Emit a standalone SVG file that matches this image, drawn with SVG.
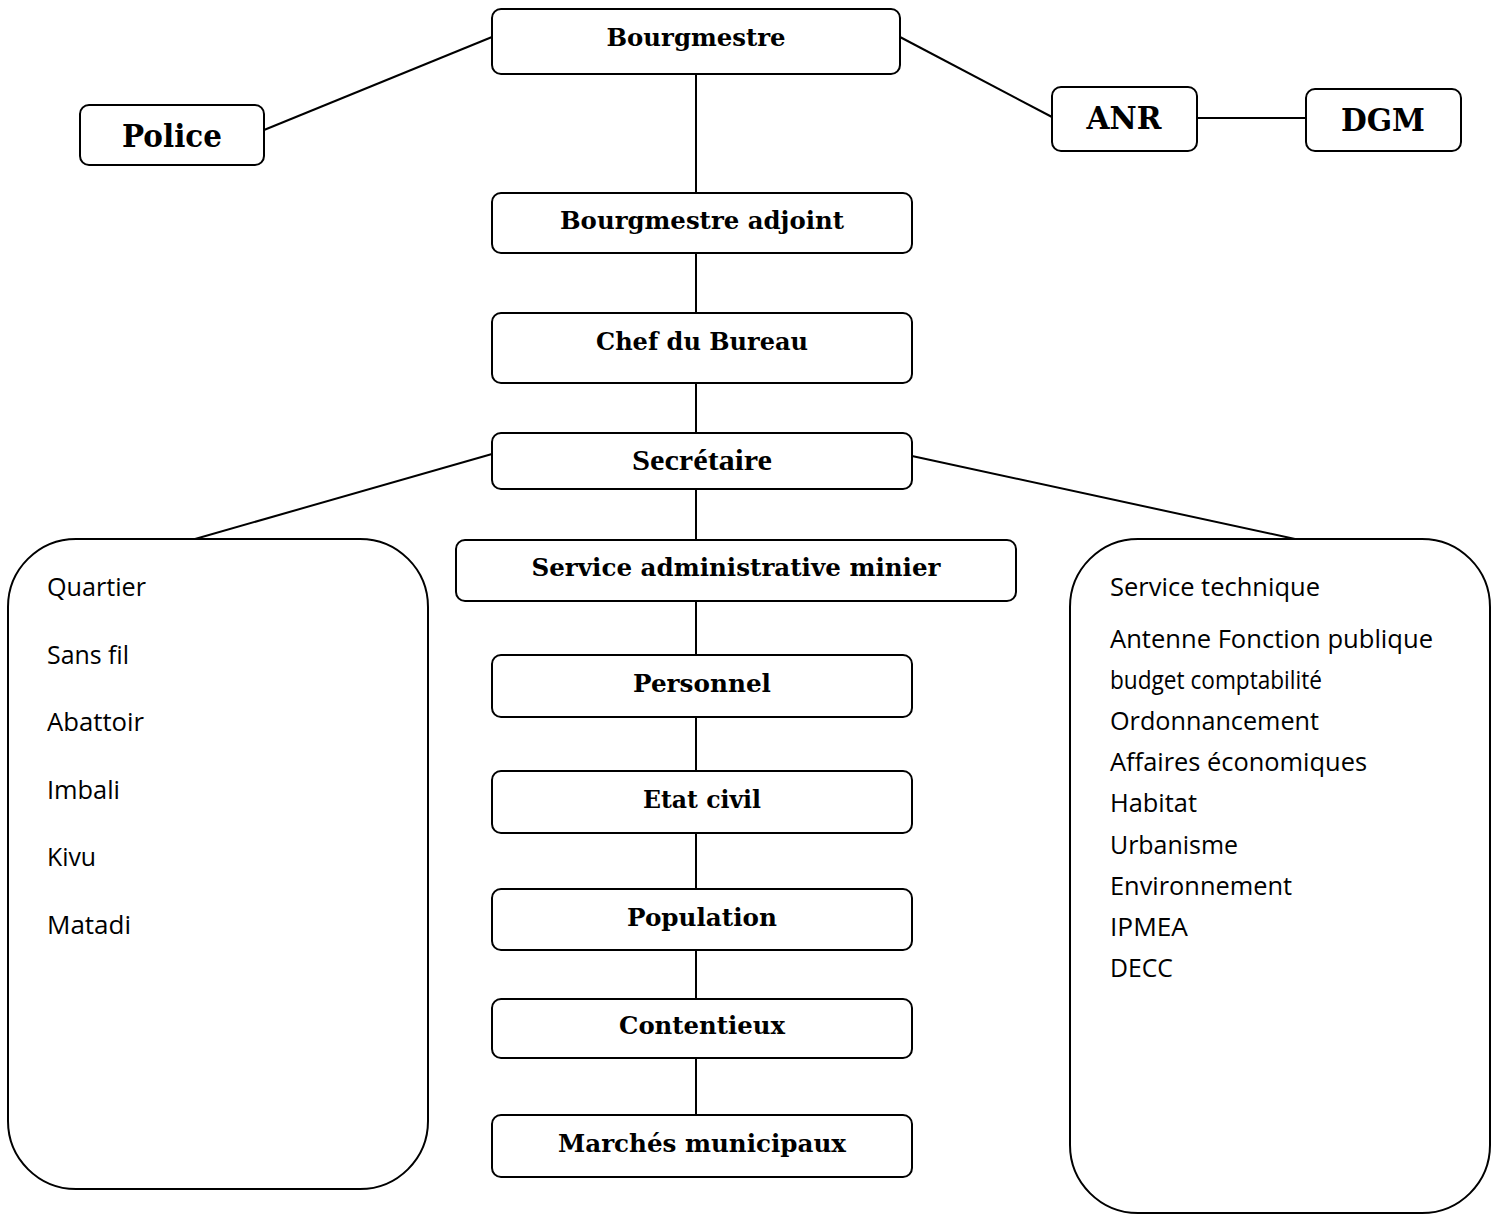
<svg xmlns="http://www.w3.org/2000/svg" width="1495" height="1214" viewBox="0 0 1495 1214">
<style>
.box{fill:#fff;stroke:#000;stroke-width:2}
.big{fill:#fff;stroke:#000;stroke-width:2}
.lbl{font-family:"DejaVu Serif","Liberation Serif",serif;font-weight:bold;font-size:25px;fill:#000;text-anchor:middle}
.lbl2{font-family:"DejaVu Serif","Liberation Serif",serif;font-weight:bold;font-size:31px;fill:#000;text-anchor:middle}
.cond{font-family:"Liberation Serif",serif;font-weight:bold;font-size:29px;fill:#000;text-anchor:middle}
.item{font-family:"Open Sans","Noto Sans",sans-serif;font-size:26px;fill:#000}
.con line{stroke:#000;stroke-width:2}
</style>
<rect width="1495" height="1214" fill="#fff"/>
<g class="con" id="connectors">
<line x1="492" y1="37" x2="264" y2="130"/>
<line x1="900" y1="37" x2="1052" y2="117"/>
<line x1="1197" y1="118" x2="1306" y2="118"/>
<line x1="696" y1="74" x2="696" y2="193"/>
<line x1="696" y1="253" x2="696" y2="313"/>
<line x1="696" y1="383" x2="696" y2="433"/>
<line x1="696" y1="489" x2="696" y2="540"/>
<line x1="696" y1="601" x2="696" y2="655"/>
<line x1="696" y1="717" x2="696" y2="771"/>
<line x1="696" y1="833" x2="696" y2="889"/>
<line x1="696" y1="950" x2="696" y2="999"/>
<line x1="696" y1="1058" x2="696" y2="1115"/>
<line x1="492" y1="454" x2="195" y2="539"/>
<line x1="912" y1="456" x2="1295" y2="539"/>
</g>
<g id="bourgmestre"><rect class="box" x="492" y="9" width="408" height="65" rx="9"/><text class="lbl" x="696" y="46" textLength="179" lengthAdjust="spacingAndGlyphs">Bourgmestre</text></g>
<g id="police"><rect class="box" x="80" y="105" width="184" height="60" rx="9"/><text class="lbl2" x="172" y="147" textLength="100" lengthAdjust="spacingAndGlyphs">Police</text></g>
<g id="anr"><rect class="box" x="1052" y="87" width="145" height="64" rx="9"/><text class="lbl2" x="1124" y="129" textLength="75" lengthAdjust="spacingAndGlyphs">ANR</text></g>
<g id="dgm"><rect class="box" x="1306" y="89" width="155" height="62" rx="9"/><text class="lbl2" x="1383" y="131" textLength="84" lengthAdjust="spacingAndGlyphs">DGM</text></g>
<g id="adjoint"><rect class="box" x="492" y="193" width="420" height="60" rx="9"/><text class="lbl" x="702" y="229" textLength="284" lengthAdjust="spacingAndGlyphs">Bourgmestre adjoint</text></g>
<g id="chef"><rect class="box" x="492" y="313" width="420" height="70" rx="9"/><text class="lbl" x="702" y="350" textLength="212" lengthAdjust="spacingAndGlyphs">Chef du Bureau</text></g>
<g id="secretaire"><rect class="box" x="492" y="433" width="420" height="56" rx="9"/><text class="cond" x="702" y="470" textLength="140" lengthAdjust="spacingAndGlyphs">Secrétaire</text></g>
<g id="service-minier"><rect class="box" x="456" y="540" width="560" height="61" rx="9"/><text class="lbl" x="736" y="576" textLength="409" lengthAdjust="spacingAndGlyphs">Service administrative minier</text></g>
<g id="personnel"><rect class="box" x="492" y="655" width="420" height="62" rx="9"/><text class="lbl" x="702" y="692" textLength="138" lengthAdjust="spacingAndGlyphs">Personnel</text></g>
<g id="etat-civil"><rect class="box" x="492" y="771" width="420" height="62" rx="9"/><text class="lbl" x="702" y="808" textLength="118" lengthAdjust="spacingAndGlyphs">Etat civil</text></g>
<g id="population"><rect class="box" x="492" y="889" width="420" height="61" rx="9"/><text class="lbl" x="702" y="926" textLength="150" lengthAdjust="spacingAndGlyphs">Population</text></g>
<g id="contentieux"><rect class="box" x="492" y="999" width="420" height="59" rx="9"/><text class="lbl" x="702" y="1034" textLength="166" lengthAdjust="spacingAndGlyphs">Contentieux</text></g>
<g id="marches"><rect class="box" x="492" y="1115" width="420" height="62" rx="9"/><text class="lbl" x="702" y="1152" textLength="288" lengthAdjust="spacingAndGlyphs">Marchés municipaux</text></g>
<g id="quartiers"><rect class="big" x="8" y="539" width="420" height="650" rx="68"/>
<text class="item" x="47" y="596" textLength="99" lengthAdjust="spacingAndGlyphs">Quartier</text>
<text class="item" x="47" y="664" textLength="82" lengthAdjust="spacingAndGlyphs">Sans fil</text>
<text class="item" x="47" y="731" textLength="97" lengthAdjust="spacingAndGlyphs">Abattoir</text>
<text class="item" x="47" y="799" textLength="73" lengthAdjust="spacingAndGlyphs">Imbali</text>
<text class="item" x="47" y="866" textLength="49" lengthAdjust="spacingAndGlyphs">Kivu</text>
<text class="item" x="47" y="934" textLength="84" lengthAdjust="spacingAndGlyphs">Matadi</text>
</g>
<g id="service-technique"><rect class="big" x="1070" y="539" width="420" height="674" rx="68"/>
<text class="item" x="1110" y="596" textLength="210" lengthAdjust="spacingAndGlyphs">Service technique</text>
<text class="item" x="1110" y="648" textLength="323" lengthAdjust="spacingAndGlyphs">Antenne Fonction publique</text>
<text class="item" x="1110" y="689" textLength="212" lengthAdjust="spacingAndGlyphs">budget comptabilité</text>
<text class="item" x="1110" y="730" textLength="209" lengthAdjust="spacingAndGlyphs">Ordonnancement</text>
<text class="item" x="1110" y="771" textLength="257" lengthAdjust="spacingAndGlyphs">Affaires économiques</text>
<text class="item" x="1110" y="812" textLength="87" lengthAdjust="spacingAndGlyphs">Habitat</text>
<text class="item" x="1110" y="854" textLength="128" lengthAdjust="spacingAndGlyphs">Urbanisme</text>
<text class="item" x="1110" y="895" textLength="182" lengthAdjust="spacingAndGlyphs">Environnement</text>
<text class="item" x="1110" y="936" textLength="78" lengthAdjust="spacingAndGlyphs">IPMEA</text>
<text class="item" x="1110" y="977" textLength="63" lengthAdjust="spacingAndGlyphs">DECC</text>
</g>
</svg>
